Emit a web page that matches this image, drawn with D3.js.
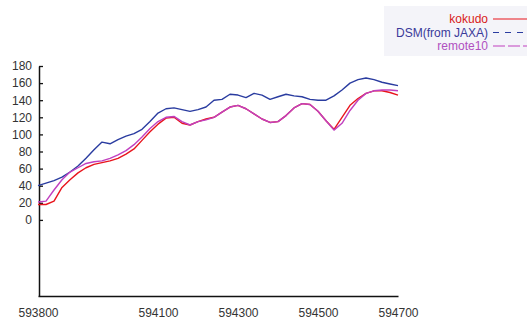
<!DOCTYPE html>
<html>
<head>
<meta charset="utf-8">
<script src="https://cdn.jsdelivr.net/npm/d3@7"></script>
<style>
  html, body { margin: 0; padding: 0; background: #fff; }
  svg { display: block; font-family: "Liberation Sans", Arial, sans-serif; }
</style>
</head>
<body>
<svg id="chart" width="527" height="320"></svg>
<script>
// sample positions (easting), every 20 m
const xs = d3.range(593800, 594701, 20);

const kokudo = [18, 18, 22, 38, 47, 55, 61, 65, 67, 69, 72, 77, 83, 93, 103, 112,
  119, 120, 113, 111, 115, 118, 120, 126, 132, 134, 130, 124, 118, 114, 115, 122,
  131, 136, 135, 127, 116, 106, 120, 134, 142, 148, 151, 151, 149, 146];

const dsm = [40, 43, 46, 50, 56, 63, 72, 82, 91, 89, 94, 98, 101, 106, 115, 125,
  130, 131, 129, 127, 129, 132, 140, 141, 147, 146, 143, 148, 146, 141, 144, 147,
  145, 144, 141, 140, 140, 145, 152, 160, 164, 166, 164, 161, 159, 157];

const remote10 = [21, 22, 35, 47, 56, 61, 66, 68, 69, 72, 76, 81, 88, 97, 107, 115,
  120, 121, 115, 111, 115, 117, 120, 126, 132, 134, 130, 124, 118, 114, 115, 122,
  131, 136, 135, 127, 116, 105, 113, 128, 140, 148, 151, 152, 152, 151];

const yTicks = d3.range(0, 181, 20);
const xTicks = [593800, 594100, 594300, 594500, 594700];

const series = [
  { name: "kokudo", values: kokudo, color: "#e8141c", text: "#d82020", dash: null },
  { name: "DSM(from JAXA)", values: dsm, color: "#2a3ca0", text: "#3a3a9a", dash: "6,6" },
  { name: "remote10", values: remote10, color: "#c040c0", text: "#b050c0", dash: "12,3" },
];

const svg = d3.select("#chart");

const x = d3.scaleLinear().domain([593800, 594700]).range([38, 398]);
const y = d3.scaleLinear().domain([-89, 180]).range([296, 66]);

// y axis
const yAxis = svg.append("g")
  .attr("transform", "translate(39,0)")
  .call(d3.axisLeft(y).tickValues(yTicks).tickSizeInner(-4).tickSizeOuter(0).tickPadding(7));
yAxis.select(".domain").attr("stroke", "#111").attr("stroke-width", 1.5);
yAxis.selectAll(".tick line").attr("stroke", "#111").attr("stroke-width", 1.3);
yAxis.selectAll("text").attr("font-size", 12).attr("fill", "#333")
  .attr("font-family", "'Liberation Sans', Arial, sans-serif");

// x axis
const xAxis = svg.append("g")
  .attr("transform", "translate(0,296)")
  .call(d3.axisBottom(x).tickValues(xTicks).tickSize(0).tickPadding(12).tickFormat(d3.format("d")));
xAxis.select(".domain").attr("stroke", "#111").attr("stroke-width", 1.5);
xAxis.selectAll("text").attr("font-size", 12).attr("fill", "#333")
  .attr("font-family", "'Liberation Sans', Arial, sans-serif");

// lines: blue first, then red, purple on top
const line = d3.line()
  .x((d, i) => x(xs[i]))
  .y(d => y(d));

[series[1], series[0], series[2]].forEach(s => {
  svg.append("path")
    .datum(s.values)
    .attr("fill", "none")
    .attr("stroke", s.color)
    .attr("stroke-width", 1.4)
    .attr("stroke-linejoin", "round")
    .attr("d", line);
});

// legend
const legend = svg.append("g");
legend.append("rect")
  .attr("x", 384).attr("y", 6).attr("width", 143).attr("height", 50)
  .attr("fill", "#f4f4f9");

series.forEach((s, i) => {
  const ly = 19 + i * 13.5;
  legend.append("text")
    .attr("x", 488).attr("y", ly + 4)
    .attr("text-anchor", "end")
    .attr("font-size", 12)
    .attr("fill", s.text)
    .text(s.name);
  legend.append("line")
    .attr("x1", 493).attr("x2", 527)
    .attr("y1", ly).attr("y2", ly)
    .attr("stroke", s.color)
    .attr("stroke-width", 1.2)
    .attr("stroke-dasharray", s.dash);
});
</script>
</body>
</html>
